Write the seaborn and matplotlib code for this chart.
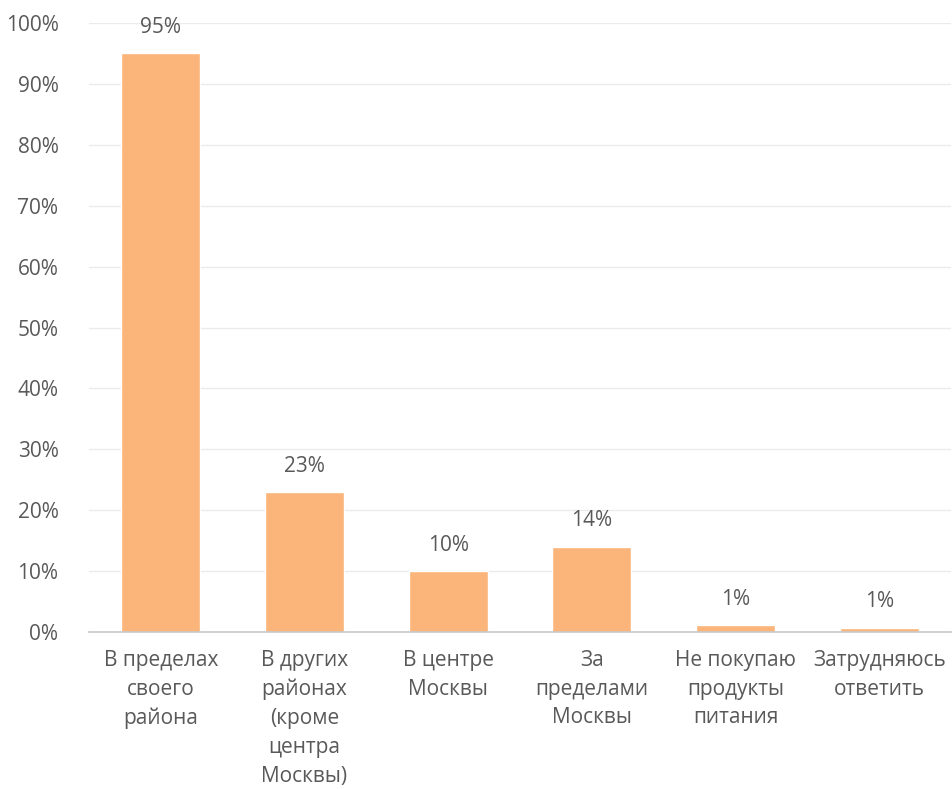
import matplotlib
matplotlib.use("Agg")
import matplotlib.pyplot as plt
from matplotlib.ticker import PercentFormatter
import seaborn as sns
import pandas as pd

categories = [
    "В пределах\nсвоего\nрайона",
    "В других\nрайонах\n(кроме\nцентра\nМосквы)",
    "В центре\nМосквы",
    "За\nпределами\nМосквы",
    "Не покупаю\nпродукты\nпитания",
    "Затрудняюсь\nответить",
]
values = [95, 23, 10, 14, 1.1, 0.7]
value_labels = ["95%", "23%", "10%", "14%", "1%", "1%"]

BAR_COLOR = "#FBB47A"
TEXT_COLOR = "#595959"
FS = 15

sns.set_theme(style="white")
plt.rcParams["font.family"] = ["Open Sans", "DejaVu Sans"]

df = pd.DataFrame({"cat": categories, "val": values})

fig = plt.figure(figsize=(9.52, 7.89), dpi=100)
ax = fig.add_axes([89 / 952, 1 - 632 / 789, (951 - 89) / 952, (632 - 23) / 789])

sns.barplot(data=df, x="cat", y="val", color=BAR_COLOR, saturation=1,
            width=0.55, ax=ax)

ax.set_ylim(0, 100)
ax.set_xlim(-0.5, 5.5)
ax.set_yticks(range(0, 101, 10))
ax.yaxis.set_major_formatter(PercentFormatter(decimals=0))
ax.grid(axis="y", color="#EBEBEB", linewidth=1)
ax.set_axisbelow(True)

for s in ["top", "right", "left"]:
    ax.spines[s].set_visible(False)
ax.spines["bottom"].set_color("#C8C8C8")
ax.spines["bottom"].set_linewidth(1.2)

ax.tick_params(axis="y", length=0, pad=22, labelsize=FS, labelcolor=TEXT_COLOR)
ax.tick_params(axis="x", length=0, pad=13, labelsize=FS, labelcolor=TEXT_COLOR)
for lbl in ax.get_xticklabels():
    lbl.set_linespacing(1.48)
    lbl.set_verticalalignment("top")
ax.set_xlabel("")
ax.set_ylabel("")

for i, (v, t) in enumerate(zip(values, value_labels)):
    ax.annotate(t, (i, v), xytext=(0, 11), textcoords="offset points",
                ha="center", va="bottom", fontsize=FS, color=TEXT_COLOR)

fig.savefig("out.png", dpi=100)
